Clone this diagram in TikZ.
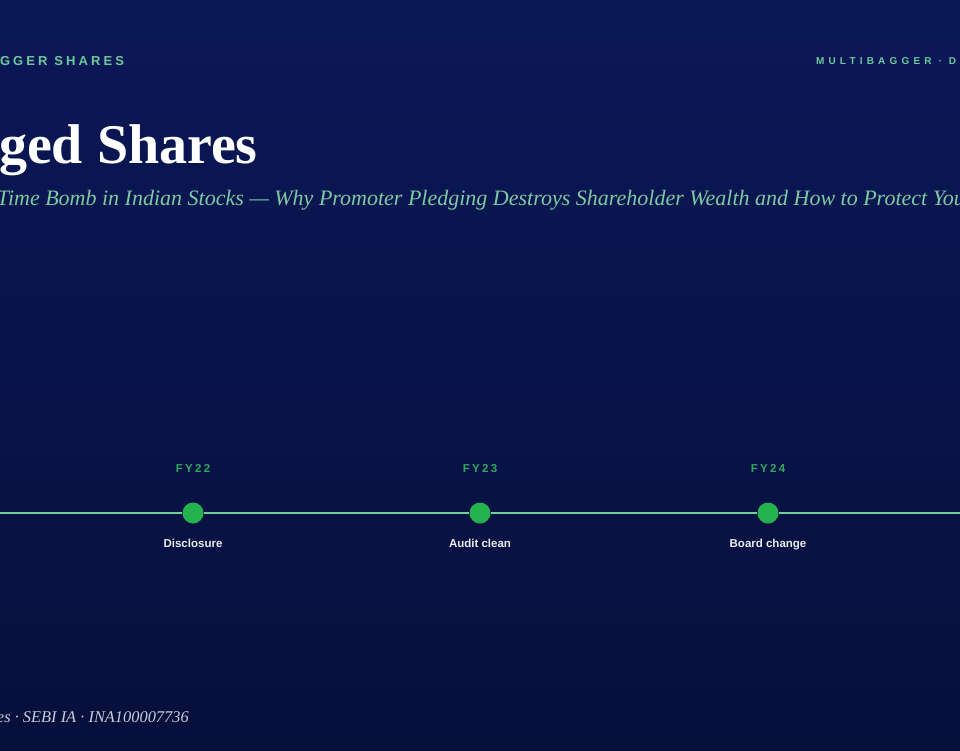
\documentclass[tikz,border=0pt]{standalone}
\usepackage{fontspec}
\setmainfont{Liberation Serif}
\setsansfont{Liberation Sans}
\definecolor{bgtop}{HTML}{0B1858}
\definecolor{bgbot}{HTML}{070F3B}
\definecolor{mint}{HTML}{6CC99A}
\definecolor{subcol}{HTML}{7DC9A2}
\definecolor{linecol}{HTML}{6FCF97}
\definecolor{dotcol}{HTML}{24B24E}
\definecolor{fycol}{HTML}{2EAA5C}
\definecolor{footcol}{HTML}{C9CCD9}
\tikzset{
  txt/.style={inner sep=0pt, outer sep=0pt},
  kicker/.style={txt, anchor=base west, text=mint, font=\sffamily\bfseries\fontsize{13}{13}\selectfont\addfontfeature{LetterSpace=24}},
  kickerR/.style={txt, anchor=base west, text=mint, font=\sffamily\bfseries\fontsize{10}{10}\selectfont\addfontfeature{LetterSpace=42}},
  titlestyle/.style={txt, anchor=base west, text=white, font=\bfseries\fontsize{56}{56}\selectfont},
  substyle/.style={txt, anchor=base west, text=subcol, font=\itshape\fontsize{22}{22}\selectfont},
  fylabel/.style={txt, anchor=base, text=fycol, font=\sffamily\bfseries\fontsize{11.5}{11.5}\selectfont\addfontfeature{LetterSpace=20}},
  evlabel/.style={txt, anchor=base, text=white!92!black, font=\sffamily\bfseries\fontsize{11.5}{11.5}\selectfont},
  milestone/.style={circle, fill=dotcol, minimum size=21pt, inner sep=0pt},
  footstyle/.style={txt, anchor=base west, text=footcol, font=\itshape\fontsize{16.4}{16.4}\selectfont},
}
\begin{document}
\begin{tikzpicture}[x=1pt,y=-1pt]
\useasboundingbox (0,0) rectangle (960,750);
\shade[top color=bgtop, bottom color=bgbot] (0,0) rectangle (960,750);
\begin{scope}
\clip (0,0) rectangle (960,750);
\node[kicker] (hl) at (0,65) {GGER SHARES};
\node[kickerR] (hr) at (816,64) {MULTIBAGGER · D};
\node[titlestyle] (title) at (-1,163) {ged Shares};
\node[substyle] (sub) at (-3,205) {Time Bomb in Indian Stocks — Why Promoter Pledging Destroys Shareholder Wealth and How to Protect Your Portfolio};
\coordinate (lstart) at (-5,513);
\coordinate (lend) at (965,513);
\node[milestone] (m1) at (193,513) {};
\node[milestone] (m2) at (480,513) {};
\node[milestone] (m3) at (768,513) {};
\draw[linecol, line width=2.8pt] (lstart) -- (m1) (m1) -- (m2) (m2) -- (m3) (m3) -- (lend);
\node[fylabel] (fy1) at (193,472) {FY22};
\node[fylabel] (fy2) at (480,472) {FY23};
\node[fylabel] (fy3) at (768,472) {FY24};
\node[evlabel] (e1) at (193,547) {Disclosure};
\node[evlabel] (e2) at (480,547) {Audit clean};
\node[evlabel] (e3) at (768,547) {Board change};
\node[footstyle] (foot) at (-3,722) {es · SEBI IA · INA100007736};
\end{scope}
\end{tikzpicture}
\end{document}
